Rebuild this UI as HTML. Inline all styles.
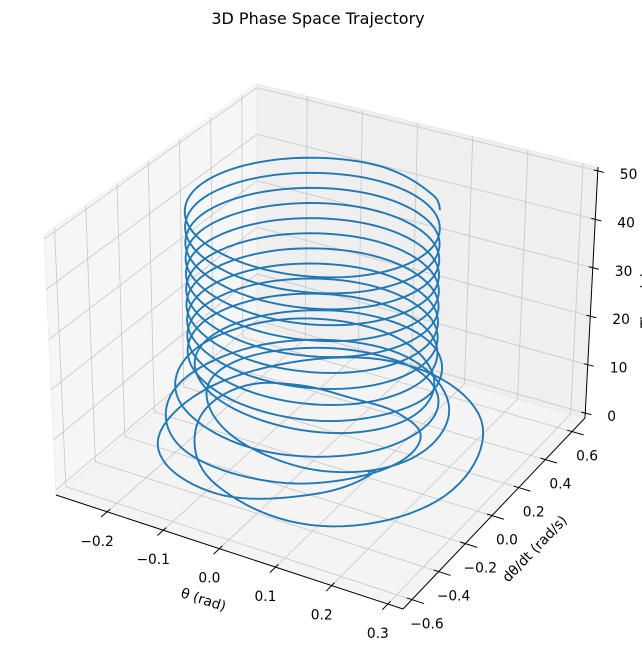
<!DOCTYPE html>
<html><head><meta charset="utf-8">
<style>
html,body{margin:0;padding:0;background:#fff;}
svg{display:block;font-family:"DejaVu Sans","Liberation Sans",sans-serif;}
</style></head>
<body>
<svg id="chart" width="642" height="658" viewBox="0 0 642 658" xmlns="http://www.w3.org/2000/svg">
<text x="318" y="24" font-size="16" text-anchor="middle" fill="#000">3D Phase Space Trajectory</text>
<g id="panes"></g>
<g id="grid"></g>
<g id="axes"></g>
<g id="ticks" font-size="13.8" fill="#000"></g>
<g id="series"></g>
<text x="0" y="0" font-size="13.8" text-anchor="middle" transform="translate(202,604) rotate(18)">θ (rad)</text>
<text x="0" y="0" font-size="13.8" text-anchor="middle" transform="translate(538,552) rotate(-46)">dθ/dt (rad/s)</text>
<text x="0" y="0" font-size="13.8" text-anchor="middle" transform="translate(651,300) rotate(-90)">Time (s)</text>
</svg>
<script>
const xTicks = [-0.2, -0.1, 0.0, 0.1, 0.2, 0.3];
const xTickLabels = ["\u22120.2", "\u22120.1", "0.0", "0.1", "0.2", "0.3"];
const yTicks = [-0.6, -0.4, -0.2, 0.0, 0.2, 0.4, 0.6];
const yTickLabels = ["\u22120.6", "\u22120.4", "\u22120.2", "0.0", "0.2", "0.4", "0.6"];
const zTicks = [0, 10, 20, 30, 40, 50];
const zTickLabels = ["0", "10", "20", "30", "40", "50"];

const timeValues = [
0,0.39,0.79,1.18,1.57,1.96,2.36,2.75,
3.14,3.53,3.93,4.32,4.71,5.11,5.50,5.89,
6.28,6.68,7.07,7.46,7.85,8.25,8.64,9.03,
9.42,9.82,10.21,10.60,11.00,11.39,11.78,12.17,
12.57,12.96,13.35,13.74,14.14,14.53,14.92,15.32,
15.71,16.10,16.49,16.89,17.28,17.67,18.06,18.46,
18.85,19.24,19.63,20.03,20.42,20.81,21.21,21.60,
21.99,22.38,22.78,23.17,23.56,23.95,24.35,24.74,
25.13,25.53,25.92,26.31,26.70,27.10,27.49,27.88,
28.27,28.67,29.06,29.45,29.85,30.24,30.63,31.02,
31.42,31.81,32.20,32.59,32.99,33.38,33.77,34.16,
34.56,34.95,35.34,35.74,36.13,36.52,36.91,37.31,
37.70,38.09,38.48,38.88,39.27,39.66,40.06,40.45,
40.84,41.23,41.63,42.02,42.41,42.80,43.20,43.59,
43.98,44.37,44.77,45.16,45.55,45.95,46.34,46.73,
47.12,47.52,47.91,48.30,48.69,49.09,49.48,49.87,
50.00];
const thetaValues = [
0.100,0.110,0.070,-0.068,-0.217,-0.219,-0.034,0.190,
0.262,0.137,-0.059,-0.175,-0.168,-0.091,0.004,0.098,
0.169,0.161,0.041,-0.133,-0.232,-0.169,0.011,0.174,
0.210,0.119,-0.024,-0.136,-0.175,-0.130,-0.016,0.121,
0.201,0.160,0.011,-0.152,-0.217,-0.143,0.014,0.152,
0.194,0.128,-0.003,-0.131,-0.191,-0.145,-0.011,0.138,
0.207,0.141,0,-0.141,-0.200,-0.141,0,0.141,
0.200,0.141,0,-0.141,-0.200,-0.141,0,0.141,
0.200,0.141,0,-0.141,-0.200,-0.141,0,0.141,
0.200,0.141,0,-0.141,-0.200,-0.141,0,0.141,
0.200,0.141,0,-0.141,-0.200,-0.141,0,0.141,
0.200,0.141,0,-0.141,-0.200,-0.141,0,0.141,
0.200,0.141,0,-0.141,-0.200,-0.141,0,0.141,
0.200,0.141,0,-0.141,-0.200,-0.141,0,0.141,
0.200,0.141,0,-0.141,-0.200,-0.141,0,0.141,
0.200,0.141,0,-0.141,-0.200,-0.141,0,0.141,
0.172];
const omegaValues = [
0,-0.002,-0.221,-0.423,-0.252,0.249,0.607,0.445,
-0.084,-0.484,-0.452,-0.134,0.142,0.238,0.243,0.223,
0.104,-0.162,-0.418,-0.403,-0.061,0.353,0.500,0.283,
-0.091,-0.341,-0.355,-0.201,0.011,0.216,0.348,0.310,
0.065,-0.266,-0.448,-0.329,0.014,0.334,0.419,0.249,
-0.039,-0.277,-0.361,-0.263,-0.023,0.250,0.400,0.312,
0.019,-0.283,-0.400,-0.283,0,0.283,0.400,0.283,
0,-0.283,-0.400,-0.283,0,0.283,0.400,0.283,
0,-0.283,-0.400,-0.283,0,0.283,0.400,0.283,
0,-0.283,-0.400,-0.283,0,0.283,0.400,0.283,
0,-0.283,-0.400,-0.283,0,0.283,0.400,0.283,
0,-0.283,-0.400,-0.283,0,0.283,0.400,0.283,
0,-0.283,-0.400,-0.283,0,0.283,0.400,0.283,
0,-0.283,-0.400,-0.283,0,0.283,0.400,0.283,
0,-0.283,-0.400,-0.283,0,0.283,0.400,0.283,
0,-0.283,-0.400,-0.283,0,0.283,0.400,0.283,
0.202];

const X0=-0.291, X1=0.327, Y0=-0.667, Y1=0.697, Z0=-1, Z1=50.8;
const B00=[56,495], B10=[403,609], B11=[585,418], B01=[257,325];
const T00=[44,235], T10=[403,337], T11=[598,167], T01=[257,84];

function bil(a,b,c,d,u,v){
  return [(1-u)*(1-v)*a[0]+u*(1-v)*b[0]+u*v*c[0]+(1-u)*v*d[0],
          (1-u)*(1-v)*a[1]+u*(1-v)*b[1]+u*v*c[1]+(1-u)*v*d[1]];
}
function proj(x,y,z){
  const u=(x-X0)/(X1-X0), v=(y-Y0)/(Y1-Y0), w=(z-Z0)/(Z1-Z0);
  const b=bil(B00,B10,B11,B01,u,v), t=bil(T00,T10,T11,T01,u,v);
  return [b[0]*(1-w)+t[0]*w, b[1]*(1-w)+t[1]*w];
}
const NS='http://www.w3.org/2000/svg';
function mk(tag,parent){const e=document.createElementNS(NS,tag);parent.appendChild(e);return e;}
function line(parent,p,q,stroke,w){
  const l=mk('line',parent);
  l.setAttribute('x1',p[0].toFixed(2));l.setAttribute('y1',p[1].toFixed(2));
  l.setAttribute('x2',q[0].toFixed(2));l.setAttribute('y2',q[1].toFixed(2));
  l.setAttribute('stroke',stroke);l.setAttribute('stroke-width',w);
  return l;
}
function poly(parent,pts,fill,stroke){
  const p=mk('polygon',parent);
  p.setAttribute('points',pts.map(a=>a.join(',')).join(' '));
  p.setAttribute('fill',fill);p.setAttribute('stroke',stroke);p.setAttribute('stroke-width','0.8');
  return p;
}
const panes=document.getElementById('panes');
const pl=poly(panes,[B00,B01,T01,T00],'#f6f6f6','#ececec');


const pr=poly(panes,[B01,B11,T11,T01],'#efefef','#e6e6e6');


const pf=poly(panes,[B00,B10,B11,B01],'#f4f4f4','#e8e8e8');



const grid=document.getElementById('grid');
const gc='#c6c6c6', gw='0.8';
xTicks.forEach(x=>{
  const a=line(grid,proj(x,Y0,Z0),proj(x,Y1,Z0),gc,gw);
  
  
  const b=line(grid,proj(x,Y1,Z0),proj(x,Y1,Z1),gc,gw);
  
  
});
yTicks.forEach(y=>{
  const a=line(grid,proj(X0,y,Z0),proj(X1,y,Z0),gc,gw);
  
  
  const b=line(grid,proj(X0,y,Z0),proj(X0,y,Z1),gc,gw);
  
  
});
zTicks.forEach(z=>{
  const a=line(grid,proj(X0,Y0,z),proj(X0,Y1,z),gc,gw);
  
  
  const b=line(grid,proj(X0,Y1,z),proj(X1,Y1,z),gc,gw);
  
  
});

const axes=document.getElementById('axes');
const ax=line(axes,proj(X0,Y0,Z0),proj(X1,Y0,Z0),'#000','1');


const ay=line(axes,proj(X1,Y0,Z0),proj(X1,Y1,Z0),'#000','1');


const az=line(axes,proj(X1,Y1,Z0),proj(X1,Y1,Z1),'#000','1');



const ticks=document.getElementById('ticks');
const xr=X1-X0, yr=Y1-Y0;
xTicks.forEach((x,i)=>{
  const p=proj(x,Y0,Z0);
  const tm=line(axes,proj(x,Y0+0.015*yr,Z0),proj(x,Y0-0.03*yr,Z0),'#000','1');
  
  
  const t=mk('text',ticks);
  t.setAttribute('x',(p[0]-10).toFixed(1));t.setAttribute('y',(p[1]+34).toFixed(1));
  t.setAttribute('text-anchor','middle');t.textContent=xTickLabels[i];
  
  
});
yTicks.forEach((y,i)=>{
  const p=proj(X1,y,Z0);
  const tm=line(axes,proj(X1-0.015*xr,y,Z0),proj(X1+0.035*xr,y,Z0),'#000','1');
  
  
  const t=mk('text',ticks);
  t.setAttribute('x',(p[0]+15).toFixed(1));t.setAttribute('y',(p[1]+29).toFixed(1));
  t.setAttribute('text-anchor','middle');t.textContent=yTickLabels[i];
  
  
});
zTicks.forEach((z,i)=>{
  const p=proj(X1,Y1,z);
  const tm=line(axes,[p[0]-4,p[1]-1],[p[0]+6,p[1]+1.5],'#000','1');
  
  
  const t=mk('text',ticks);
  t.setAttribute('x',(p[0]+22).toFixed(1));t.setAttribute('y',(p[1]+8).toFixed(1));
  t.setAttribute('text-anchor','start');t.textContent=zTickLabels[i];
  
  
});

// trajectory: cubic Hermite interpolation in data space (theta' = omega), then projected
const series=document.getElementById('series');
const n=timeValues.length;
function omegaSlope(i){
  const a=Math.max(0,i-1), b=Math.min(n-1,i+1);
  return (omegaValues[b]-omegaValues[a])/(timeValues[b]-timeValues[a])*1.1;
}
function herm(p0,m0,p1,m1,h,s){
  const s2=s*s,s3=s2*s;
  return (2*s3-3*s2+1)*p0+(s3-2*s2+s)*h*m0+(-2*s3+3*s2)*p1+(s3-s2)*h*m1;
}
let dstr='';
for(let i=0;i<n-1;i++){
  const h=timeValues[i+1]-timeValues[i];
  const m0=omegaSlope(i), m1=omegaSlope(i+1);
  const steps=12;
  for(let s=(i===0?0:1);s<=steps;s++){
    const f=s/steps;
    const th=herm(thetaValues[i],omegaValues[i],thetaValues[i+1],omegaValues[i+1],h,f);
    const om=herm(omegaValues[i],m0,omegaValues[i+1],m1,h,f);
    const tt=timeValues[i]+h*f;
    const p=proj(th,om,tt);
    dstr+=(dstr?'L':'M')+p[0].toFixed(2)+','+p[1].toFixed(2);
  }
}
const path=mk('path',series);
path.setAttribute('d',dstr);
path.setAttribute('fill','none');
path.setAttribute('stroke','#1f77b4');
path.setAttribute('stroke-width','1.9');
path.setAttribute('stroke-linejoin','round');


</script>
</body></html>
